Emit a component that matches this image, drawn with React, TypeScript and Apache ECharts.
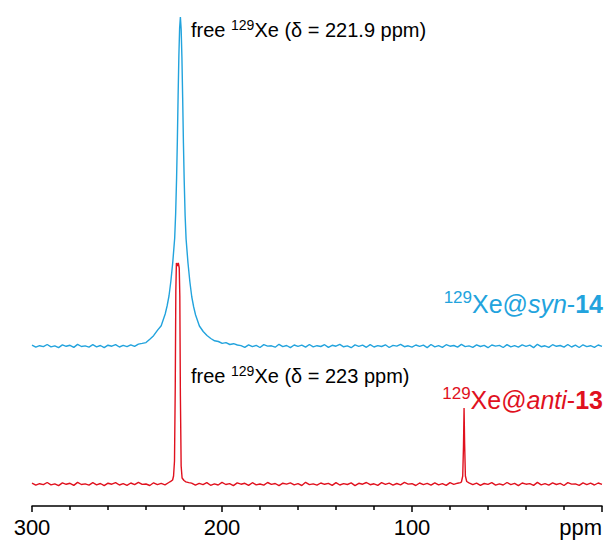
import React, { useEffect, useRef } from "react";
import * as echarts from "echarts";

// chemical shift axis (ppm), labels every 100, minor every 20
const xTickValues = [300, 200, 100, 0];
const xTickLabels = ["300", "200", "100", "ppm"];

// 129Xe@syn-14 spectrum (blue): [ppm, intensity]
const blueSpectrum: [number, number][] = [
  [300, 160.9], [298, 158.8], [296, 160.3], [294, 159.4], [292, 161.5], [290, 159.1],
  [288, 160.2], [286, 158.4], [284, 161.1], [282, 159.7], [280, 160.7], [278, 158.6],
  [276, 161.6], [274, 159.5], [272, 160.1], [270, 158.9], [268, 161.3], [266, 159.2],
  [264, 160.5], [262, 158.3], [260, 160.8], [258, 159.8], [256, 161.4], [254, 159.0],
  [252, 160.6], [250, 159.3], [248, 161.2], [246, 159.6], [244, 161.9], [242, 162.6],
  [240, 163.4], [238, 166.8], [236, 170.3], [234, 175.6], [232, 180.2],
  [229.9, 192], [228.9, 200], [227.9, 210], [226.9, 225], [225.9, 244], [224.9, 268],
  [224.4, 292], [223.9, 328], [223.5, 365], [223.1, 410], [222.7, 450], [222.3, 478],
  [221.9, 489], [221.5, 477], [221.1, 449], [220.7, 408], [220.3, 363], [219.9, 326],
  [219.4, 290], [218.9, 267], [217.9, 243], [216.9, 224], [215.9, 209], [214.9, 199],
  [213.9, 191], [211.9, 180], [209.9, 174.5], [207.9, 170.5], [205.9, 167.5], [203.9, 165.2],
  [201.9, 164.5], [199.9, 162.6], [197.9, 163.4], [195.9, 161.5], [193.9, 162.3], [191.9, 161.0],
  [190, 160.4], [188, 158.7], [186, 161.2], [184, 159.3], [182, 160.6], [180, 158.5],
  [178, 161.4], [176, 159.9], [174, 160.2], [172, 158.8], [170, 161.7], [168, 159.4],
  [166, 160.5], [164, 158.4], [162, 161.0], [160, 159.6], [158, 160.8], [156, 158.9],
  [154, 161.5], [152, 159.1], [150, 160.3], [148, 159.5], [146, 161.3], [144, 158.6],
  [142, 160.7], [140, 159.8], [138, 161.6], [136, 159.2], [134, 160.1], [132, 158.3],
  [130, 161.1], [128, 159.7], [126, 160.9], [124, 158.7], [122, 161.4], [120, 159.0],
  [118, 160.4], [116, 159.5], [114, 161.2], [112, 158.5], [110, 160.6], [108, 159.9],
  [106, 161.7], [104, 159.3], [102, 160.2], [100, 158.8], [98, 161.0], [96, 159.6],
  [94, 160.8], [92, 158.4], [90, 161.5], [88, 159.1], [86, 160.3], [84, 158.6],
  [82, 161.3], [80, 159.8], [78, 160.5], [76, 158.9], [74, 161.6], [72, 159.4],
  [70, 160.1], [68, 158.7], [66, 161.2], [64, 159.5], [62, 160.7], [60, 158.3],
  [58, 161.0], [56, 159.9], [54, 160.6], [52, 158.5], [50, 161.4], [48, 159.2],
  [46, 160.4], [44, 158.8], [42, 161.1], [40, 159.6], [38, 160.9], [36, 158.4],
  [34, 161.7], [32, 159.3], [30, 160.2], [28, 158.6], [26, 161.3], [24, 159.7],
  [22, 160.5], [20, 158.9], [18, 161.5], [16, 159.0], [14, 160.8], [12, 158.5],
  [10, 161.2], [8, 159.4], [6, 160.3], [4, 158.7], [2, 161.0], [0, 159.6],
];

// 129Xe@anti-13 spectrum (red): [ppm, intensity]
const redSpectrum: [number, number][] = [
  [300, 22.9], [298, 20.8], [296, 22.3], [294, 21.4], [292, 23.5], [290, 21.1],
  [288, 22.2], [286, 20.4], [284, 23.1], [282, 21.7], [280, 22.7], [278, 20.6],
  [276, 23.6], [274, 21.5], [272, 22.1], [270, 20.9], [268, 23.3], [266, 21.2],
  [264, 22.5], [262, 20.3], [260, 22.8], [258, 21.8], [256, 23.4], [254, 21.0],
  [252, 22.4], [250, 20.7], [248, 23.0], [246, 21.3], [244, 23.7], [242, 21.6],
  [240, 22.0], [238, 20.5], [236, 23.2], [234, 21.4], [232, 22.6], [230, 21.2],
  [228, 23.5], [227, 24.6], [226, 26], [225.5, 30], [225, 45], [224.6, 120],
  [224.3, 215], [224, 243], [223.5, 240], [223, 243], [222.5, 238], [222.2, 210],
  [221.9, 110], [221.5, 40], [221, 28], [220, 25.5], [219, 24.2], [217.5, 23.4],
  [216, 22.9], [214, 20.8], [212, 22.6], [210, 21.3], [208, 23.4], [206, 20.7],
  [204, 22.2], [202, 21.0], [200, 23.6], [198, 21.5], [196, 22.4], [194, 20.4],
  [192, 23.1], [190, 21.8], [188, 22.7], [186, 20.6], [184, 23.3], [182, 21.1],
  [180, 22.0], [178, 20.9], [176, 23.5], [174, 21.6], [172, 22.5], [170, 20.3],
  [168, 22.8], [166, 21.9], [164, 23.2], [162, 21.2], [160, 22.3], [158, 20.5],
  [156, 23.7], [154, 21.4], [152, 22.1], [150, 20.8], [148, 23.0], [146, 21.7],
  [144, 22.6], [142, 20.6], [140, 23.4], [138, 21.0], [136, 22.4], [134, 21.5],
  [132, 23.1], [130, 20.4], [128, 22.7], [126, 21.8], [124, 23.5], [122, 21.3],
  [120, 22.2], [118, 20.7], [116, 23.3], [114, 21.6], [112, 22.8], [110, 20.9],
  [108, 22.5], [106, 21.2], [104, 23.6], [102, 21.9], [100, 22.3], [98, 20.5],
  [96, 23.0], [94, 21.4], [92, 22.6], [90, 20.8], [88, 23.2], [86, 21.1],
  [84, 22.4], [82, 20.6], [80, 23.4], [78, 21.7], [76, 22.8], [74.5, 23.4],
  [74, 24], [73.3, 30], [72.9, 60], [72.6, 98], [72.3, 62], [71.9, 30],
  [71.2, 24.5], [70, 23.2], [68, 21.3], [66, 22.9], [64, 20.7], [62, 22.5],
  [60, 21.6], [58, 23.3], [56, 20.9], [54, 22.2], [52, 21.0], [50, 23.5],
  [48, 21.4], [46, 22.7], [44, 20.4], [42, 23.0], [40, 21.8], [38, 22.4],
  [36, 20.6], [34, 23.6], [32, 21.2], [30, 22.3], [28, 20.8], [26, 23.1],
  [24, 21.5], [22, 22.6], [20, 20.5], [18, 23.4], [16, 21.9], [14, 22.1],
  [12, 20.7], [10, 23.2], [8, 21.3], [6, 22.8], [4, 21.0], [2, 23.0], [0, 21.6],
];

const BLUE = "#22a3dd";
const RED = "#e0111e";
const FONT = "Liberation Sans, Arial, Helvetica, sans-serif";

export default function App() {
  const ref = useRef<HTMLDivElement>(null);

  useEffect(() => {
    document.body.style.margin = "0";
    if (!ref.current) return;
    const chart = echarts.init(ref.current, null, { renderer: "svg" });

    const annRich = (fill: string) => ({
      n: { fontSize: 20, fontFamily: FONT, fill, lineHeight: 24 },
      sup: { fontSize: 14, fontFamily: FONT, fill, lineHeight: 15, verticalAlign: "top" },
    });
    const labRich = (fill: string) => ({
      n: { fontSize: 25, fontFamily: FONT, fill, lineHeight: 30 },
      i: { fontSize: 25, fontFamily: FONT, fill, lineHeight: 30, fontStyle: "italic" },
      b: { fontSize: 25, fontFamily: FONT, fill, lineHeight: 30, fontWeight: "bold" },
      sup: { fontSize: 17, fontFamily: FONT, fill, lineHeight: 18, verticalAlign: "top" },
    });

    chart.setOption({
      animation: false,
      backgroundColor: "#ffffff",
      grid: { left: 32, right: 4, top: 0, bottom: 36 },
      xAxis: {
        type: "value",
        min: 0,
        max: 300,
        interval: 100,
        inverse: true,
        splitLine: { show: false },
        axisLine: { show: true, lineStyle: { color: "#000", width: 1.5 } },
        axisTick: { show: true, length: 6, lineStyle: { color: "#000", width: 1.5 } },
        minorTick: { show: true, splitNumber: 5, length: 4, lineStyle: { color: "#000", width: 1.5 } },
        axisLabel: {
          fontSize: 22,
          fontFamily: FONT,
          color: "#000",
          margin: 10,
          alignMinLabel: "right",
          formatter: (v: number) => {
            const i = xTickValues.indexOf(v);
            return i >= 0 ? xTickLabels[i] : "";
          },
        },
      },
      yAxis: { type: "value", min: 0, max: 506, show: false },
      series: [
        {
          type: "line",
          data: blueSpectrum,
          showSymbol: false,
          symbol: "none",
          lineStyle: { color: BLUE, width: 1.4 },
        },
        {
          type: "line",
          data: redSpectrum,
          showSymbol: false,
          symbol: "none",
          lineStyle: { color: RED, width: 1.4 },
        },
      ],
      graphic: [
        {
          type: "text",
          left: 191,
          top: 18,
          style: {
            text: "{n|free }{sup|129}{n|Xe (δ = 221.9 ppm)}",
            rich: annRich("#000"),
          },
        },
        {
          type: "text",
          left: 191,
          top: 364,
          style: {
            text: "{n|free }{sup|129}{n|Xe (δ = 223 ppm)}",
            rich: annRich("#000"),
          },
        },
        {
          type: "text",
          right: 3,
          top: 289,
          style: {
            text: "{sup|129}{n|Xe@}{i|syn}{n|-}{b|14}",
            rich: labRich(BLUE),
          },
        },
        {
          type: "text",
          right: 3,
          top: 385,
          style: {
            text: "{sup|129}{n|Xe@}{i|anti}{n|-}{b|13}",
            rich: labRich(RED),
          },
        },
      ],
    });

    return () => chart.dispose();
  }, []);

  return <div ref={ref} style={{ width: 606, height: 542 }} />;
}
